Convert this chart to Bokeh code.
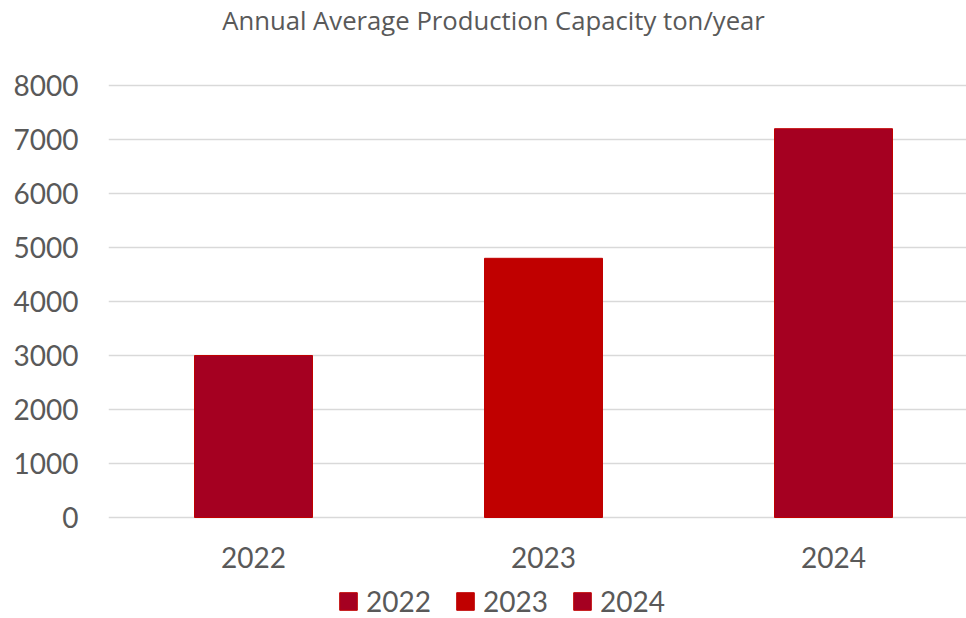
from bokeh.plotting import figure
from bokeh.models import ColumnDataSource, Range1d, FixedTicker, Label, Legend, LegendItem
from bokeh.core.properties import value
from bokeh.embed import file_html
from bokeh.resources import INLINE

years = ["2022", "2023", "2024"]
capacity = [3000, 4800, 7200]
colors = ["#A50021", "#C00000", "#A50021"]
y_ticks = [0, 1000, 2000, 3000, 4000, 5000, 6000, 7000, 8000]
title_text = "Annual Average Production Capacity ton/year"

# layout (pixels)
W, H = 966, 618
FRAME_LEFT = 108
Y0_PX, YTOP_PX = 517, 85          # pixel rows of 0 and 8000
CAT_PX = 290                      # width of one category
upp = y_ticks[-1] / (Y0_PX - YTOP_PX)   # data units per pixel

pos = list(range(1, len(years) + 1))
src = ColumnDataSource(dict(x=pos, top=capacity, color=colors, year=years))

p = figure(width=W, height=H, output_backend="svg", toolbar_location=None,
           x_range=Range1d(0.5, 0.5 + (W - FRAME_LEFT) / CAT_PX),
           y_range=Range1d(-(H - Y0_PX) * upp, Y0_PX * upp),
           min_border_left=FRAME_LEFT, min_border_right=0, min_border_top=0, min_border_bottom=0)
p.outline_line_color = None
p.background_fill_color = "white"
p.border_fill_color = "white"
p.xaxis.visible = False

r = p.vbar(x="x", top="top", width=118 / CAT_PX, bottom=0, source=src,
           fill_color="color", line_color="#C00000", line_width=1)

p.xgrid.grid_line_color = None
p.ygrid.grid_line_color = "#D9D9D9"
p.ygrid.grid_line_width = 1.5
p.yaxis.ticker = FixedTicker(ticks=y_ticks)
ax = p.yaxis[0]
ax.axis_line_color = None
ax.major_tick_line_color = None
ax.minor_tick_line_color = None
ax.major_tick_out = 0
ax.major_tick_in = 0
ax.major_label_text_font = "Lato"
ax.major_label_text_font_size = "28px"
ax.major_label_text_color = "#595959"
ax.major_label_standoff = 30

# category labels under the bars
p.text(x=pos, y=[-40 * upp] * len(pos), text=years, text_align="center",
       text_baseline="middle", text_font=value("Lato"), text_font_size="28px",
       text_color="#595959")

legend = Legend(items=[LegendItem(label=y, renderers=[r], index=i) for i, y in enumerate(years)],
                orientation="horizontal", location=(229, 0),
                label_text_font="Lato", label_text_font_size="28px",
                label_text_color="#595959", glyph_width=22, glyph_height=22,
                spacing=23, label_standoff=7, border_line_color=None,
                padding=0, margin=0, background_fill_alpha=0)
p.add_layout(legend)

t = Label(x=0.5 + (493 - FRAME_LEFT) / CAT_PX, y=y_ticks[-1] + (YTOP_PX - 20) * upp,
          text=title_text, text_align="center", text_baseline="middle",
          text_font="Open Sans", text_font_size="25.7px", text_color="#595959")
p.add_layout(t)

open("out.html", "w").write(file_html(p, INLINE))
